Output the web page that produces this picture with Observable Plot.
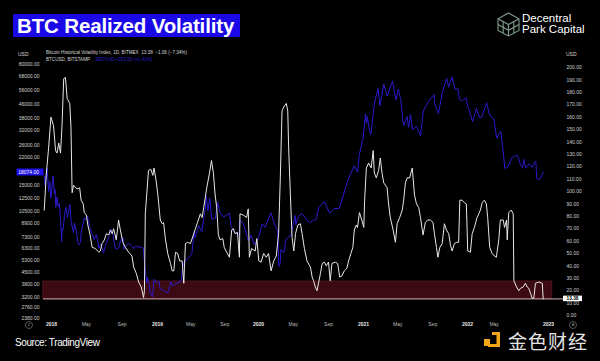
<!DOCTYPE html>
<html>
<head>
<meta charset="utf-8">
<script src="https://cdn.jsdelivr.net/npm/d3@7"></script>
<script src="https://cdn.jsdelivr.net/npm/@observablehq/plot@0.6"></script>
<style>
html,body{margin:0;padding:0;background:#000;}
#wrap{position:relative;width:600px;height:361px;overflow:hidden;background:#000;font-family:"Liberation Sans",Arial,Helvetica,sans-serif;}
.abs{position:absolute;white-space:nowrap;}
.title{left:13px;top:14px;width:227px;height:23px;background:#1a08e6;color:#fff;font-weight:bold;font-size:20.5px;line-height:24px;padding-left:4px;box-sizing:border-box;letter-spacing:-0.15px;}
.logo{left:522px;top:13px;color:#fff;font-size:11.5px;line-height:10.5px;}
.small{font-size:5px;color:#d6d6d6;line-height:6px;}
.legend{font-size:4.6px;color:#d6d6d6;line-height:6px;}
.source{left:15px;top:337px;color:#fff;font-size:10px;letter-spacing:-0.4px;}
.wm{left:508px;top:327px;color:#e4e4e4;font-size:19px;font-family:"Noto Sans CJK SC",sans-serif;letter-spacing:1px;}
.circ{width:6px;height:6px;border:1px solid #555;border-radius:50%;color:#999;font-size:4px;line-height:6px;text-align:center;}
</style>
</head>
<body>
<div id="wrap">
  <div class="abs title">BTC Realized Volatility</div>
  <svg class="abs" style="left:497px;top:12px" width="23" height="25" viewBox="0 0 23 25">
    <g fill="none" stroke="#7f9c8d" stroke-width="1.1">
      <path d="M11.5 1 L22 6.8 L22 18.5 L11.5 24 L1 18.5 L1 6.8 Z"/>
      <path d="M1 6.8 L11.5 12.6 L22 6.8 M11.5 12.6 L11.5 24"/>
      <path d="M1 12.6 L11.5 18.3 L22 12.6"/>
      <path d="M6.2 9.7 L6.2 21.2 M16.8 9.7 L16.8 21.2"/>
    </g>
  </svg>
  <div class="abs logo">Decentral<br>Park Capital</div>
  <div class="abs small" style="left:18px;top:51px">USD</div>
  <div class="abs small" style="left:566px;top:51px">USD</div>
  <div class="abs legend" style="left:46px;top:50px">Bitcoin Historical Volatility Index, 1D, BITMEX&nbsp; 13.38 &nbsp;−1.06 (−7.34%)</div>
  <div class="abs legend" style="left:46px;top:57px">BTCUSD, BITSTAMP&nbsp;&nbsp;&nbsp; <span style="color:#2a1cc8">18074.00 +252.00 (+1.41%)</span></div>
  <div class="abs circ" style="left:25px;top:321px">Z</div>
  <div class="abs circ" style="left:569px;top:321px">A</div>
  <div class="abs source">Source: TradingView</div>
  <svg class="abs" style="left:483px;top:331px" width="18" height="17" viewBox="0 0 18 17">
    <g fill="#f2a516">
      <rect x="1" y="8" width="6" height="7"/>
      <path d="M9 1 H17 V16 H5 V13 H13.5 V4 H9 Z"/>
    </g>
  </svg>
  <div class="abs wm">金色财经</div>
</div>
<script>
// ---------- data ----------
const volDates = ["2017-12-07","2017-12-14","2017-12-22","2017-12-30","2018-01-08","2018-01-15","2018-01-20","2018-01-26","2018-02-01","2018-02-06","2018-02-12","2018-02-18","2018-02-24","2018-03-05","2018-03-09","2018-03-13","2018-03-18","2018-03-30","2018-04-08","2018-04-13","2018-04-20","2018-04-24","2018-05-01","2018-05-06","2018-05-13","2018-05-21","2018-06-01","2018-06-13","2018-06-18","2018-06-24","2018-07-02","2018-07-09","2018-07-17","2018-07-23","2018-07-29","2018-08-03","2018-08-12","2018-08-20","2018-08-26","2018-09-04","2018-09-12","2018-09-24","2018-10-05","2018-10-11","2018-10-20","2018-10-28","2018-11-06","2018-11-14","2018-11-17","2018-11-20","2018-12-01","2018-12-09","2018-12-16","2018-12-20","2018-12-27","2019-01-02","2019-01-11","2019-01-18","2019-01-23","2019-01-30","2019-02-07","2019-02-17","2019-02-23","2019-03-01","2019-03-07","2019-03-15","2019-03-22","2019-03-31","2019-04-06","2019-04-12","2019-04-20","2019-04-30","2019-05-12","2019-05-24","2019-06-05","2019-06-11","2019-06-17","2019-06-28","2019-07-08","2019-07-15","2019-07-22","2019-07-28","2019-08-03","2019-08-09","2019-08-15","2019-08-25","2019-08-30","2019-09-08","2019-09-18","2019-09-26","2019-10-02","2019-10-08","2019-10-17","2019-10-24","2019-10-26","2019-11-07","2019-11-19","2019-11-25","2019-11-29","2019-12-07","2019-12-20","2019-12-26","2020-01-02","2020-01-10","2020-01-19","2020-01-28","2020-02-05","2020-02-14","2020-02-23","2020-03-03","2020-03-11","2020-03-17","2020-03-23","2020-03-31","2020-04-07","2020-04-12","2020-04-15","2020-04-21","2020-04-27","2020-05-03","2020-05-09","2020-05-17","2020-05-26","2020-06-01","2020-06-09","2020-06-18","2020-06-30","2020-07-06","2020-07-11","2020-07-17","2020-07-23","2020-07-29","2020-08-04","2020-08-10","2020-08-18","2020-08-24","2020-09-01","2020-09-07","2020-09-13","2020-09-25","2020-10-03","2020-10-10","2020-10-18","2020-10-26","2020-11-04","2020-11-10","2020-11-18","2020-11-25","2020-11-30","2020-12-07","2020-12-11","2020-12-18","2020-12-26","2021-01-02","2021-01-05","2021-01-11","2021-01-19","2021-01-28","2021-02-04","2021-02-08","2021-02-15","2021-02-23","2021-03-01","2021-03-07","2021-03-13","2021-03-19","2021-03-25","2021-03-30","2021-04-05","2021-04-15","2021-04-23","2021-04-29","2021-05-08","2021-05-17","2021-05-22","2021-05-28","2021-06-03","2021-06-12","2021-06-21","2021-06-24","2021-06-29","2021-07-06","2021-07-14","2021-07-20","2021-07-29","2021-08-06","2021-08-14","2021-08-24","2021-09-02","2021-09-07","2021-09-14","2021-09-19","2021-09-26","2021-10-04","2021-10-12","2021-10-19","2021-10-27","2021-11-02","2021-11-08","2021-11-16","2021-11-23","2021-12-01","2021-12-05","2021-12-13","2021-12-21","2021-12-28","2022-01-02","2022-01-14","2022-01-22","2022-02-01","2022-02-13","2022-02-21","2022-02-28","2022-03-08","2022-03-18","2022-03-27","2022-04-02","2022-04-11","2022-04-22","2022-05-02","2022-05-11","2022-05-22","2022-05-29","2022-06-11","2022-06-17","2022-06-26","2022-06-29","2022-07-06","2022-07-17","2022-07-26","2022-07-29","2022-08-10","2022-08-20","2022-08-28","2022-09-09","2022-09-19","2022-09-27","2022-10-04","2022-10-12","2022-10-19","2022-10-27","2022-11-03","2022-11-18","2022-12-04","2022-12-08"];
const volValues = [85,114,135,160,153,133,131,139,131,152,191,192,175,171,152,99,105,102,103,93,90,83,81,73,66,55,54,51,52,58,61,66,65,69,66,70,61,77,69,59,55,51,48,39,34,27,23,14.5,20,82,117,118,113,119,109,98,77,74,75,61,50,42,36,36,51,50,44,44,26,58,59,58,66,74,82,79,87,103,115,125,115,98,87,65,61,62,55,51,47,69,70,66,67,47,82,81,79,86,47,54,52,62,44,43,50,47,50,36,44,48,66,111,165,169,171,165,136,98,63,52,66,73,74,66,54,44,39,31,28,23,20,27,34,42,43,40,43,28,42,43,42,31,32,36,38,44,50,55,69,73,71,83,77,71,93,119,123,119,133,115,111,117,127,115,107,105,103,90,79,69,59,74,79,85,93,107,111,111,119,111,97,90,87,79,65,75,77,77,75,66,55,47,55,58,74,69,66,57,52,58,59,59,93,93,91,90,52,51,66,71,79,82,85,91,93,90,79,55,50,48,47,61,77,77,71,77,61,83,85,82,28,23,20,22,23,26,23,22,18,14,14,26,27,26,13.38];

const btcDates = ["2017-12-07","2017-12-10","2017-12-13","2017-12-17","2017-12-22","2017-12-26","2017-12-30","2018-01-03","2018-01-06","2018-01-11","2018-01-13","2018-01-16","2018-01-20","2018-01-24","2018-01-28","2018-02-02","2018-02-05","2018-02-07","2018-02-10","2018-02-15","2018-02-20","2018-02-25","2018-03-05","2018-03-10","2018-03-15","2018-03-18","2018-03-21","2018-03-28","2018-04-01","2018-04-06","2018-04-10","2018-04-14","2018-04-24","2018-04-28","2018-05-05","2018-05-12","2018-05-23","2018-05-28","2018-06-05","2018-06-10","2018-06-13","2018-06-20","2018-06-29","2018-07-08","2018-07-17","2018-07-25","2018-08-01","2018-08-08","2018-08-14","2018-08-20","2018-08-28","2018-09-04","2018-09-08","2018-09-15","2018-09-21","2018-10-01","2018-10-11","2018-10-18","2018-10-25","2018-11-05","2018-11-13","2018-11-19","2018-11-25","2018-11-28","2018-12-03","2018-12-07","2018-12-15","2018-12-20","2018-12-24","2018-12-28","2019-01-06","2019-01-10","2019-01-20","2019-01-28","2019-02-07","2019-02-19","2019-02-24","2019-03-15","2019-03-28","2019-04-02","2019-04-10","2019-04-23","2019-05-05","2019-05-14","2019-05-17","2019-05-30","2019-06-10","2019-06-22","2019-06-26","2019-07-02","2019-07-09","2019-07-16","2019-07-29","2019-08-06","2019-08-15","2019-08-28","2019-09-18","2019-09-24","2019-10-06","2019-10-23","2019-10-26","2019-11-08","2019-11-22","2019-11-25","2019-12-05","2019-12-17","2019-12-31","2020-01-14","2020-01-24","2020-02-13","2020-02-26","2020-03-08","2020-03-12","2020-03-16","2020-03-19","2020-03-29","2020-04-07","2020-04-23","2020-04-30","2020-05-08","2020-05-10","2020-05-19","2020-06-01","2020-06-15","2020-06-27","2020-07-21","2020-07-28","2020-08-17","2020-09-05","2020-09-20","2020-10-08","2020-10-21","2020-11-05","2020-11-18","2020-11-30","2020-12-11","2020-12-17","2020-12-31","2021-01-08","2021-01-11","2021-01-14","2021-01-22","2021-01-27","2021-02-08","2021-02-21","2021-02-28","2021-03-13","2021-03-25","2021-04-13","2021-04-25","2021-05-03","2021-05-12","2021-05-19","2021-05-23","2021-06-03","2021-06-08","2021-06-15","2021-06-22","2021-07-06","2021-07-20","2021-07-30","2021-08-14","2021-08-23","2021-09-06","2021-09-07","2021-09-21","2021-10-06","2021-10-20","2021-10-27","2021-11-08","2021-11-18","2021-11-28","2021-12-04","2021-12-14","2021-12-27","2021-12-31","2022-01-10","2022-01-24","2022-02-10","2022-02-24","2022-03-06","2022-03-28","2022-04-11","2022-04-30","2022-05-12","2022-05-31","2022-06-13","2022-06-18","2022-07-01","2022-07-20","2022-07-30","2022-08-14","2022-08-28","2022-09-06","2022-09-12","2022-09-21","2022-10-05","2022-10-20","2022-10-29","2022-11-05","2022-11-09","2022-11-21","2022-12-01","2022-12-08"];
const btcValues = [17100,15000,16800,19100,13800,15800,12600,15100,17100,13400,14200,11100,12800,11200,11700,8800,6900,8200,8100,10100,11100,9600,11500,9000,8200,7800,8900,7900,6800,6600,6800,8000,9600,9300,9800,8500,7500,7100,7600,6800,6300,6700,5900,6700,7300,8200,7600,6300,6200,6300,7100,7300,6200,6500,6700,6600,6250,6500,6400,6400,6300,4800,3900,4200,3800,3400,3200,4100,4000,3900,4000,3600,3550,3450,3400,3950,3750,3900,4000,4900,5300,5500,5800,8000,7300,8600,7900,10700,12900,10600,12600,9400,9500,11900,10300,9700,10200,8500,7900,7500,9300,8800,7300,7000,7500,6600,7200,8800,8400,10300,8800,8000,4900,5000,6200,5900,7200,7500,8600,9900,8700,9800,10200,9400,9000,9400,11000,12000,10200,10900,10900,12800,15600,17800,19700,18000,22800,29000,40500,35500,39000,32000,30400,46200,57500,45200,61200,51700,63500,49000,57000,49000,37000,34700,39000,33500,40100,32500,34000,29800,42000,47000,49500,52700,46800,40600,55300,66000,58400,67500,56900,57200,49300,48300,50600,46300,41800,36200,43600,38300,38400,47100,39500,37700,28900,31800,22500,19000,19300,22000,22500,22800,20000,19200,21500,19000,20300,19300,20600,21000,16500,16300,17100,18074];

const priceTicks = [80000,68000,56000,46000,38000,32000,26000,22000,15000,12500,10500,8900,7300,6300,5300,4500,3800,3200,2760,2380];
const volTicks = [0,10,20,30,40,50,60,70,80,90,100,110,120,130,140,150,160,170,180,190,200];
const yearTickDates = ["2018-01-01","2019-01-01","2020-01-01","2021-01-01","2022-01-01","2023-01-01"];
const yearTickLabels = ["2018","2019","2020","2021","2022","2023"];
const monthTickDates = ["2018-05-01","2018-09-01","2019-05-01","2019-09-01","2020-05-01","2020-09-01","2021-05-01","2021-09-01","2022-05-01"];
const monthTickLabels = ["May","Sep","May","Sep","May","Sep","May","Sep","May"];
const lastVol = 13.38;
const lastPrice = 18074;
const supportZone = [{from:"2017-12-04", to:"2023-01-18", low:13.38, high:27.4}];

// ---------- build ----------
const vol = volDates.map((d,i)=>({date:new Date(d), v:volValues[i]}));
const btc = btcDates.map((d,i)=>({date:new Date(d), p:btcValues[i]}));
const zone = supportZone.map(z=>({...z, from:new Date(z.from), to:new Date(z.to)}));

const W=600, H=361;
const xScale = {type:"utc",
  domain:["2017-12-01","2018-01-01","2019-01-01","2020-01-01","2021-01-01","2022-01-01","2023-01-01","2023-02-01"].map(d=>new Date(d)),
  range:[42,51,157,258,363,467,548,555]};
const volY = {type:"linear", domain:[0,200], range:[315,67]};
const priceY = {type:"log", domain:[2380,80000], range:[318,64]};
const common = {width:W, height:H, marginLeft:43, marginRight:44, marginTop:60, marginBottom:43};
const svgStyle = "position:absolute;left:0;top:0;background:transparent;color:#d2d2d2;font-family:'Liberation Sans',Arial,sans-serif;font-size:5px;overflow:visible;";
const boxSym = (w,h)=>({draw(ctx){ctx.moveTo(-w/2,-h/2);ctx.lineTo(w/2,-h/2);ctx.lineTo(w/2,h/2);ctx.lineTo(-w/2,h/2);ctx.closePath();}});

// Layer 1: zone box, right axis labels, time axis labels
const layer1 = Plot.plot({...common, style:svgStyle,
  x:{...xScale, axis:null}, y:{...volY, axis:null},
  marks:[
    Plot.rect(zone,{x1:"from",x2:"to",y1:"low",y2:"high",fill:"#3c0a13",stroke:"#5e1722",strokeWidth:0.8}),
    Plot.text(volTicks,{y:d=>d, frameAnchor:"right", dx:10, textAnchor:"start", text:d=>d.toFixed(2), fontSize:5, fill:"#d2d2d2"}),
    Plot.text(yearTickDates,{x:d=>new Date(d), text:(d,i)=>yearTickLabels[i], frameAnchor:"bottom", dy:7, fontSize:5, fontWeight:"bold", fill:"#e8e8e8"}),
    Plot.text(monthTickDates,{x:d=>new Date(d), text:(d,i)=>monthTickLabels[i], frameAnchor:"bottom", dy:7, fontSize:5, fill:"#bdbdbd"})
  ]});

// Layer 2: BTC price (log, left axis)
const layer2 = Plot.plot({...common, style:svgStyle,
  x:{...xScale, axis:null}, y:{...priceY, axis:null},
  marks:[
    Plot.text(priceTicks,{y:d=>d, frameAnchor:"left", dx:-4, textAnchor:"end", text:d=>d.toFixed(2), fontSize:5, fill:"#d2d2d2"}),
    Plot.line(btc,{x:"date", y:"p", stroke:"#2a1bcc", strokeWidth:1}),
    Plot.dot([lastPrice],{y:d=>d, frameAnchor:"left", dx:-13.5, symbol:boxSym(27,7), r:1, fill:"#1e10e6", stroke:null}),
    Plot.text([lastPrice],{y:d=>d, frameAnchor:"left", dx:-4.5, textAnchor:"end", text:d=>d.toFixed(2), fontSize:5, fill:"#fff"})
  ]});

// Layer 3: volatility line (linear, right axis)
const layer3 = Plot.plot({...common, style:svgStyle,
  x:{...xScale, axis:null}, y:{...volY, axis:null},
  marks:[
    Plot.ruleY([lastVol],{stroke:"#e9c3c7", strokeWidth:0.9, insetRight:-8}),
    Plot.line(vol,{x:"date", y:"v", stroke:"#e8e8e8", strokeWidth:1}),
    Plot.dot([lastVol],{y:d=>d, frameAnchor:"right", dx:16, dy:-0.5, symbol:boxSym(19,5.5), r:1, fill:"#ffffff", stroke:null}),
    Plot.text([lastVol],{y:d=>d, frameAnchor:"right", dx:10, dy:-0.8, textAnchor:"start", text:d=>d.toFixed(2), fontSize:4.8, fill:"#000", fontWeight:"bold"})
  ]});

const wrap = document.getElementById("wrap");
[layer1, layer2, layer3].forEach(s=>wrap.appendChild(s));
</script>
</body>
</html>
